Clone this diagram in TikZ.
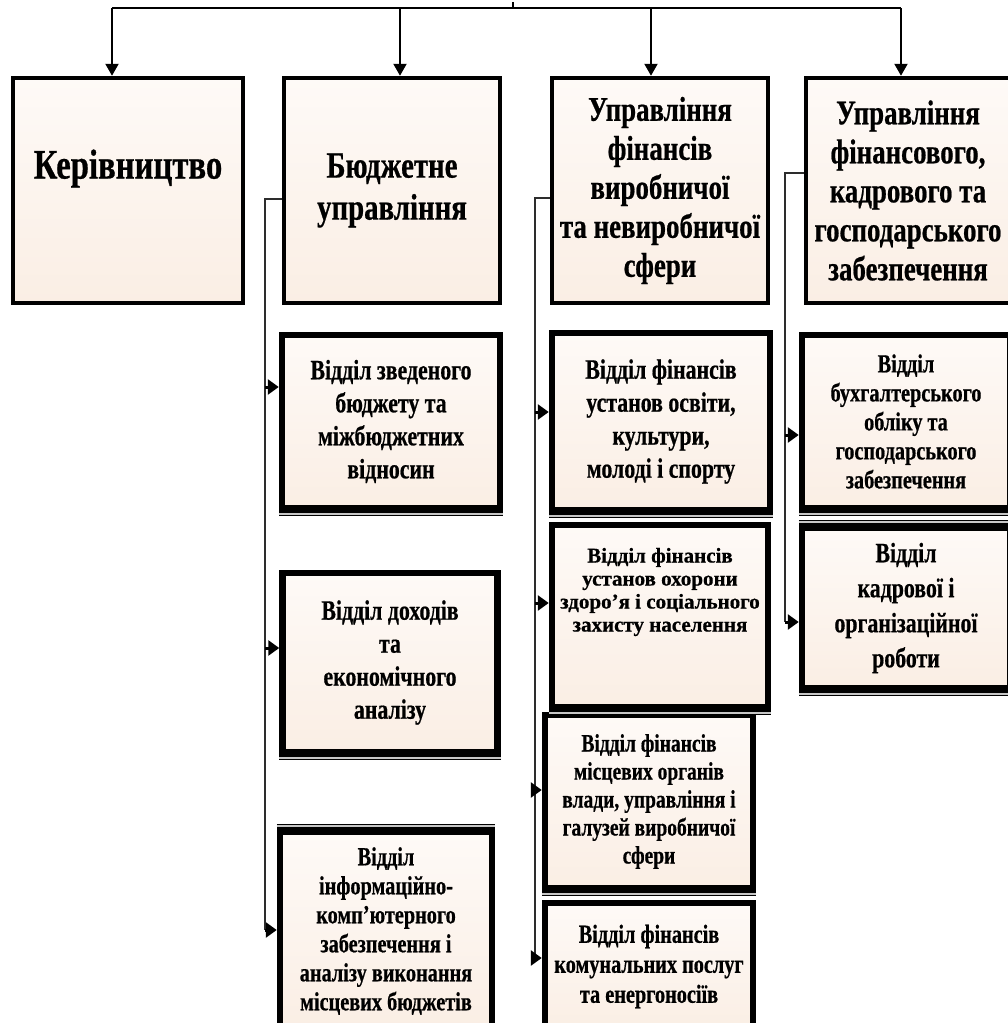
\documentclass[tikz,border=0pt]{standalone}
\usepackage{fontspec}
\setmainfont{Liberation Serif}[FakeStretch=0.78, FakeBold=0.6]
\newfontfamily\wideserif{Liberation Serif}[FakeStretch=1.0, FakeBold=0.6]
\usetikzlibrary{arrows.meta}
\definecolor{boxfill}{RGB}{250,238,228}
\definecolor{boxtop}{RGB}{254,250,247}
\definecolor{wire}{RGB}{45,45,45}
\tikzset{
  unit/.style={draw, line width=4.5pt, top color=boxtop, bottom color=boxfill,
    inner sep=0pt, align=center, font=\bfseries\fontsize{34.5}{39}\selectfont},
  dept/.style={unit, line width=6.5pt, font=\bfseries\fontsize{28}{33}\selectfont},
  dense/.style={font=\bfseries\fontsize{26}{29}\selectfont},
  drop/.style={line width=2.2pt, -{Triangle[length=12pt,width=13pt]}},
  spine/.style={draw=wire, line width=1.3pt},
  feed/.style={line width=3pt, -{Triangle[length=11pt,width=15pt]}},
  ledge/.style={line width=1.5pt, draw=black, double=gray!45, double distance=2pt}
}
\begin{document}
\begin{tikzpicture}[x=1pt, y=-1pt]
\useasboundingbox (0,0) rectangle (1007,1023);

% top row
\node[unit, minimum width=230pt, minimum height=225pt,
  label={[font=\bfseries\fontsize{42}{46}\selectfont, yshift=22pt]center:Керівництво}]
  (ker) at (128,190.5) {};
\node[unit, font=\bfseries\fontsize{37}{42}\selectfont, minimum width=216pt, minimum height=225pt]
  (bud) at (392,190.5) {Бюджетне\\управління};
\node[unit, minimum width=216pt, minimum height=225pt] (fin) at (660,190.5)
  {Управління\\фінансів\\виробничої\\та невиробничої\\сфери};
\node[unit, minimum width=204pt, minimum height=225pt] (zab) at (908,190.5)
  {Управління\\фінансового,\\кадрового та\\господарського\\забезпечення};

% bus
\coordinate (root) at (513,2);
\coordinate (bus1) at (112,8);
\coordinate (bus2) at (400,8);
\coordinate (bus3) at (651,8);
\coordinate (bus4) at (901,8);
\draw[line width=1.5pt] (bus1) -- (bus4);
\draw[line width=1.2pt] (root) -- (root |- bus1);
\foreach \b/\n in {bus1/ker, bus2/bud, bus3/fin, bus4/zab}
  \draw[drop] (\b) -- (\b |- \n.north);

% budget departments
\node[dept, minimum width=218pt, minimum height=173pt] (v1) at (391,421.5)
  {Відділ зведеного\\бюджету та\\міжбюджетних\\відносин};
\node[dept, minimum width=215pt, minimum height=179pt] (v2) at (390,662.5)
  {Відділ доходів\\та\\економічного\\аналізу};
\node[dept, dense, minimum width=212pt, minimum height=198pt] (v3) at (386,931)
  {Відділ\\інформаційно-\\комп’ютерного\\забезпечення і\\аналізу виконання\\місцевих бюджетів};

% finance departments
\node[dept, minimum width=218pt, minimum height=177pt] (f1) at (661,421.5)
  {Відділ фінансів\\установ освіти,\\культури,\\молоді і спорту};
\node[dept, minimum width=216pt, minimum height=182pt,
  label={[font=\wideserif\bfseries\fontsize{21}{23}\selectfont, align=center, yshift=24pt]center:
  Відділ фінансів\\установ охорони\\здоро’я і соціального\\захисту населення}]
  (f2) at (660,616) {};
\node[dept, font=\bfseries\fontsize{25}{28}\selectfont, minimum width=208pt, minimum height=173pt]
  (f3) at (649,801.5)
  {Відділ фінансів\\місцевих органів\\влади, управління і\\галузей виробничої\\сфери};
\node[dept, font=\bfseries\fontsize{26}{30}\selectfont, minimum width=208pt, minimum height=127pt]
  (f4) at (649,966.5)
  {Відділ фінансів\\комунальних послуг\\та енергоносіїв};

% support departments
\node[dept, dense, minimum width=208pt, minimum height=173pt] (z1) at (906,421.5)
  {Відділ\\бухгалтерського\\обліку та\\господарського\\забезпечення};
\node[dept, font=\bfseries\fontsize{28}{35}\selectfont, minimum width=208pt, minimum height=160pt]
  (z2) at (906,608)
  {Відділ\\кадрової і\\організаційної\\роботи};

% double rims
\foreach \n in {v1, v2, f1, f2, f3, z1, z2}
  \draw[ledge] ([yshift=-2.5pt]\n.south west) -- ([yshift=-2.5pt]\n.south east);
\foreach \n in {v3, z2}
  \draw[ledge] ([yshift=2.5pt]\n.north west) -- ([yshift=2.5pt]\n.north east);

% spines
\coordinate (sb) at (265,199);
\coordinate (sf) at (535,198);
\coordinate (sz) at (785,173);
\foreach \n/\s in {v1/34.5, v2/14.5, v3/1, f1/9.5, f2/13, f3/11.5, f4/8.5, z1/-13.5, z2/-14}
  \coordinate (\n-in) at ([yshift=\s pt]\n.west);
\draw[spine] (sb -| bud.west) -- (sb) -- (sb |- v3-in);
\draw[spine] (sf -| fin.west) -- (sf) -- (sf |- f4-in);
\draw[spine] (sz -| zab.west) -- (sz) -- (sz |- z2-in);
\foreach \n in {v1, v2, v3}
  \draw[feed] (sb |- \n-in) -- (\n-in);
\foreach \n in {f1, f2, f3, f4}
  \draw[feed] (sf |- \n-in) -- (\n-in);
\foreach \n in {z1, z2}
  \draw[feed] (sz |- \n-in) -- (\n-in);
\end{tikzpicture}
\end{document}
